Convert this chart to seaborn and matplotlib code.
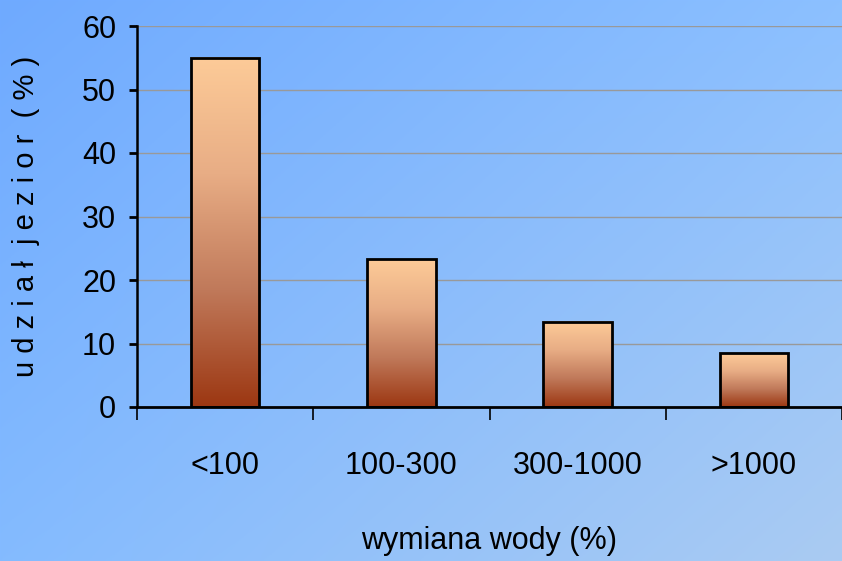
import matplotlib
matplotlib.use('Agg')
import matplotlib.pyplot as plt
import matplotlib.colors as mcolors
import numpy as np
import seaborn as sns

categories = ['<100', '100-300', '300-1000', '>1000']
shares = [55.0, 23.3, 13.4, 8.5]
y_ticks = [0, 10, 20, 30, 40, 50, 60]

sns.set_style('white')
plt.rcParams['font.family'] = ['Liberation Sans Narrow', 'Liberation Sans', 'DejaVu Sans']
plt.rcParams['text.color'] = 'black'
plt.rcParams['axes.labelcolor'] = 'black'
plt.rcParams['xtick.color'] = 'black'
plt.rcParams['ytick.color'] = 'black'

fig = plt.figure(figsize=(8.42, 5.61), dpi=100)

# diagonal blue background
bg = fig.add_axes([0, 0, 1, 1], zorder=-10)
gx, gy = np.meshgrid(np.linspace(0, 1, 300), np.linspace(0, 1, 200))
c_tl = np.array(mcolors.to_rgb('#6faaff'))
c_tr = np.array(mcolors.to_rgb('#8cc0ff'))
c_bl = np.array(mcolors.to_rgb('#84bbff'))
c_br = np.array(mcolors.to_rgb('#aacbf2'))
img = ((1 - gx) * (1 - gy))[..., None] * c_tl + (gx * (1 - gy))[..., None] * c_tr \
    + ((1 - gx) * gy)[..., None] * c_bl + (gx * gy)[..., None] * c_br
bg.imshow(img, aspect='auto', extent=[0, 1, 0, 1], origin='upper')
bg.axis('off')

ax = fig.add_axes([137 / 842, 1 - 407 / 561, 705 / 842, (407 - 26) / 561])
ax.patch.set_alpha(0)

sns.barplot(x=categories, y=shares, ax=ax, width=0.39, color='#fdcb98',
            edgecolor='black', linewidth=2, zorder=3)

# vertical gradient in each bar
grad = mcolors.LinearSegmentedColormap.from_list('bar', ['#9c3712', '#c0795a', '#e8ad85', '#fdcb98'])
for p in ax.patches:
    p.set_facecolor('none')
    x0, y0 = p.get_x(), p.get_y()
    w, h = p.get_width(), p.get_height()
    ax.imshow(np.linspace(0, 1, 256).reshape(-1, 1), cmap=grad, origin='lower',
              extent=[x0, x0 + w, y0, y0 + h], aspect='auto', zorder=2.5)

ax.set_xlim(-0.5, 3.5)
ax.set_ylim(0, 60)
ax.set_yticks(y_ticks)
ax.yaxis.grid(True, color='#999999', linewidth=1)
ax.set_axisbelow(True)

for s in ['top', 'right']:
    ax.spines[s].set_visible(False)
ax.spines['left'].set_linewidth(1.8)
ax.spines['bottom'].set_linewidth(2)
ax.spines['left'].set_color('black')
ax.spines['bottom'].set_color('black')

ax.tick_params(axis='y', length=6, width=2, pad=9, labelsize=22, left=True)
ax.tick_params(axis='x', which='major', length=0, pad=32, labelsize=22)
ax.set_xticks([-0.5, 0.5, 1.5, 2.5, 3.5], minor=True)
ax.tick_params(axis='x', which='minor', length=9, width=1.2, bottom=True)

ax.set_xlabel('wymiana wody (%)', fontsize=22, labelpad=32)
ax.set_ylabel('u d z i a ł  j e z i o r  ( % )', fontsize=21, labelpad=30)

plt.savefig('out.png', dpi=100)
